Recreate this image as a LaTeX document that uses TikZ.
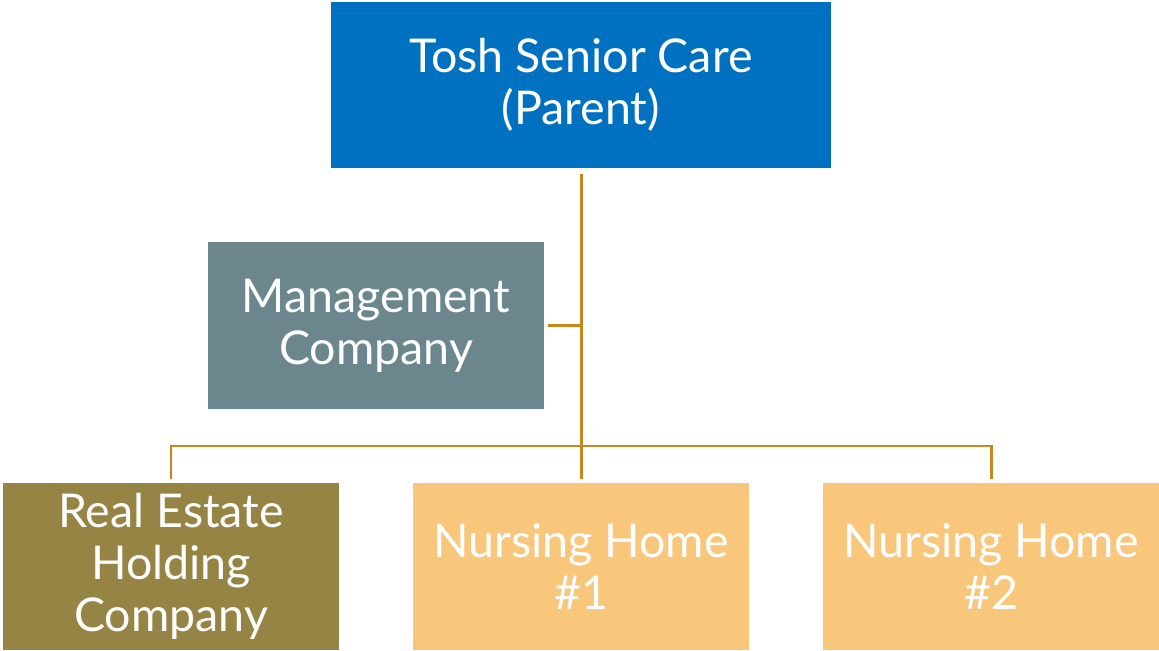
\documentclass[tikz,border=0pt]{standalone}
\usepackage{fontspec}
\setmainfont{Lato}
\usepackage{xcolor}
\definecolor{parentblue}{HTML}{0070C0}
\definecolor{mgmtgray}{HTML}{6B868D}
\definecolor{estateolive}{HTML}{968445}
\definecolor{homeorange}{HTML}{F8C77B}
\definecolor{linkbrown}{HTML}{C8861E}

\begin{document}
\begin{tikzpicture}[x=0.02cm, y=-0.02cm,
    box/.style = {rectangle, inner sep=0pt, text=white, align=center,
        minimum width=6.72cm, minimum height=3.34cm,
        font=\fontsize{26.5}{29.5}\selectfont},
    link/.style = {draw=linkbrown, line width=1.7pt}]
            \useasboundingbox (0,0) rectangle (1159,651);
            \node[box, fill=parentblue, minimum width=10cm, minimum height=3.32cm] (top) at (581,85) {Tosh Senior Care\\(Parent)};
            \node[box, fill=mgmtgray] (mgmt) at (376,325.5) {Management\\Company};
            \node[box, fill=estateolive] (estate) at (171,566.5) {Real Estate\\Holding\\Company};
            \node[box, fill=homeorange] (home1) at (581,566.5) {Nursing Home\\\#1};
            \node[box, fill=homeorange] (home2) at (991,566.5) {Nursing Home\\\#2};
            \coordinate (bus) at (581,446);
            \draw[link, shorten <=3pt, shorten >=2pt] (top.south) -- (home1.north);
            \draw[link, shorten <=2pt] (mgmt.east) -- (mgmt.east -| top.south);
            \draw[link, shorten <=2pt, shorten >=2pt] (estate.north) |- (bus) -| (home2.north);
            \end{tikzpicture}
\end{document}
